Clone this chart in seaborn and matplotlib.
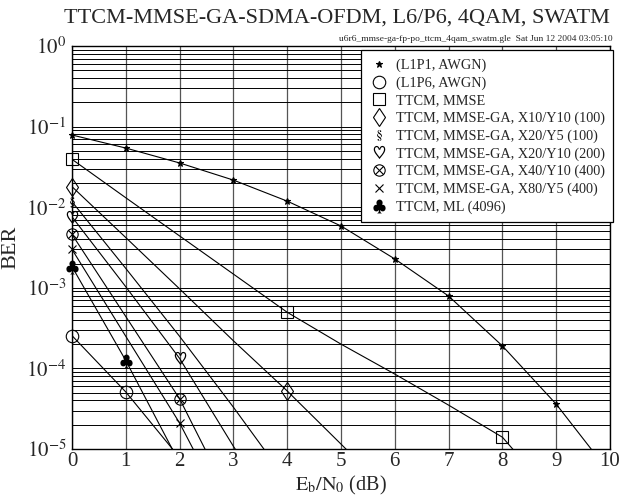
import numpy as np
import pandas as pd
import matplotlib
matplotlib.use('Agg')
import matplotlib.pyplot as plt
from matplotlib.lines import Line2D
import seaborn as sns

# BER curves (x = Eb/N0 in dB, integer steps)
star_y = [0.0787, 0.0542, 0.0354, 0.0217, 0.0119, 0.00585, 0.00228, 0.00079, 0.00019, 3.6e-5, 5e-6]
circ_y = [2.55e-4, 5.1e-5, 7.8e-6]
mmse_y = [0.0393, 0.0131, 0.0044, 0.00148, 4.97e-4, 2.0e-4, 8.5e-5, 3.5e-5, 1.4e-5, 2.4e-6]
x10y10_y = [0.018, 4.2e-3, 9.7e-4, 2.2e-4, 5.25e-5, 1.15e-5, 2.5e-6]
x20y5_y = [0.0117, 1.74e-3, 2.5e-4, 3.3e-5, 4e-6]
x20y10_y = [7.6e-3, 1.03e-3, 1.33e-4, 1.08e-5, 1.0e-6]
x40y10_y = [4.6e-3, 4.4e-4, 4.2e-5, 2.0e-6]
x80y5_y = [3.0e-3, 2.5e-4, 2.1e-5, 1.1e-6]
ml_y = [1.83e-3, 1.25e-4, 6.7e-6]

labels = ['(L1P1, AWGN)', '(L1P6, AWGN)', 'TTCM, MMSE',
          'TTCM, MMSE-GA, X10/Y10 (100)', 'TTCM, MMSE-GA, X20/Y5 (100)',
          'TTCM, MMSE-GA, X20/Y10 (200)', 'TTCM, MMSE-GA, X40/Y10 (400)',
          'TTCM, MMSE-GA, X80/Y5 (400)', 'TTCM, ML (4096)']
series = [star_y, circ_y, mmse_y, x10y10_y, x20y5_y, x20y10_y, x40y10_y, x80y5_y, ml_y]
# marker, size, kind ('open', 'filled', 'glyph'), markevery
styles = [('*', 5, 'filled', 1), ('o', 9, 'open', 1), ('s', 8.5, 'open', 4),
          ('d', 9.5, 'open', 4), (r'$\S$', 8, 'glyph', 4), (r'$\heartsuit$', 9.5, 'glyph', 2),
          (r'$\otimes$', 9, 'glyph', 2), ('x', 5.5, 'filled', 2), (r'$\clubsuit$', 10, 'glyph', 1)]

rows = []
for lab, ys in zip(labels, series):
    for i, v in enumerate(ys):
        rows.append({'ebn0': i, 'ber': v, 'series': lab})
df = pd.DataFrame(rows)

sns.set_style('white')
plt.rcParams['font.family'] = ['Liberation Serif', 'DejaVu Serif']
plt.rcParams['mathtext.fontset'] = 'stix'

fig = plt.figure(figsize=(6.19, 4.97), dpi=100)
ax = fig.add_axes([0.1163, 0.0966, 0.8692, 0.8108])


def marker_kw(mk, ms, kind):
    kw = dict(linestyle='none', marker=mk, markersize=ms, markeredgecolor='black')
    if kind == 'open':
        kw.update(markerfacecolor='none', markeredgewidth=0.8)
    elif kind == 'filled':
        kw.update(markerfacecolor='black', markeredgewidth=0.8)
    else:
        kw.update(markerfacecolor='black', markeredgewidth=0)
    return kw


handles = []
for lab, (mk, ms, kind, every) in zip(labels, styles):
    d = df[df['series'] == lab]
    sns.lineplot(data=d, x='ebn0', y='ber', ax=ax, color='black', linewidth=0.8, legend=False)
    pts = d.iloc[::every]
    pts = pts[pts['ber'] >= 1e-5]
    ax.plot(pts['ebn0'], pts['ber'], clip_on=False, zorder=5, **marker_kw(mk, ms, kind))
    handles.append(Line2D([], [], **marker_kw(mk, ms, kind)))

ax.set_yscale('log')
ax.set_xlim(0, 10)
ax.set_ylim(1e-5, 1)
ax.set_xticks(range(0, 11))
ax.set_yticks([1e-5, 1e-4, 1e-3, 1e-2, 1e-1, 1])
ax.set_yticklabels([r'$10^{-5}$', r'$10^{-4}$', r'$10^{-3}$', r'$10^{-2}$', r'$10^{-1}$', r'$10^{0}$'])
ax.yaxis.set_minor_locator(matplotlib.ticker.LogLocator(base=10, subs=np.arange(2, 10), numticks=20))
ax.yaxis.set_minor_formatter(matplotlib.ticker.NullFormatter())
ax.tick_params(axis='both', which='major', labelsize=15, direction='in', length=0, pad=4)
ax.tick_params(axis='x', which='major', pad=2)
ax.tick_params(axis='y', which='minor', length=0)
ax.grid(True, axis='x', color='#555555', linewidth=0.9)
ax.grid(True, axis='y', which='both', color='black', linewidth=0.7)
for s in ax.spines.values():
    s.set_color('black')
    s.set_linewidth(1.0)

ax.set_xlabel(r'$\mathrm{E_b/N_0}$ (dB)', fontsize=14.5)
ax.xaxis.set_label_coords(0.5, -0.063)
ax.set_ylabel('BER', fontsize=16, labelpad=4)
fig.text(0.545, 0.955, 'TTCM-MMSE-GA-SDMA-OFDM, L6/P6, 4QAM, SWATM', fontsize=16, ha='center', va='baseline')
fig.text(0.99, 0.917, 'u6r6_mmse-ga-fp-po_ttcm_4qam_swatm.gle  Sat Jun 12 2004 03:05:10',
         fontsize=6.8, ha='right', va='baseline')

leg = ax.legend(handles, labels, loc='upper right', bbox_to_anchor=(1.006, 0.99),
                borderaxespad=0, fontsize=10.3, frameon=True, fancybox=False,
                handlelength=1.2, handletextpad=0.6, labelspacing=0.3, borderpad=0.6)
leg.get_frame().set_edgecolor('black')
leg.get_frame().set_linewidth(0.9)
leg.get_frame().set_alpha(1)
leg.set_zorder(10)

fig.savefig('out.png', dpi=100)
